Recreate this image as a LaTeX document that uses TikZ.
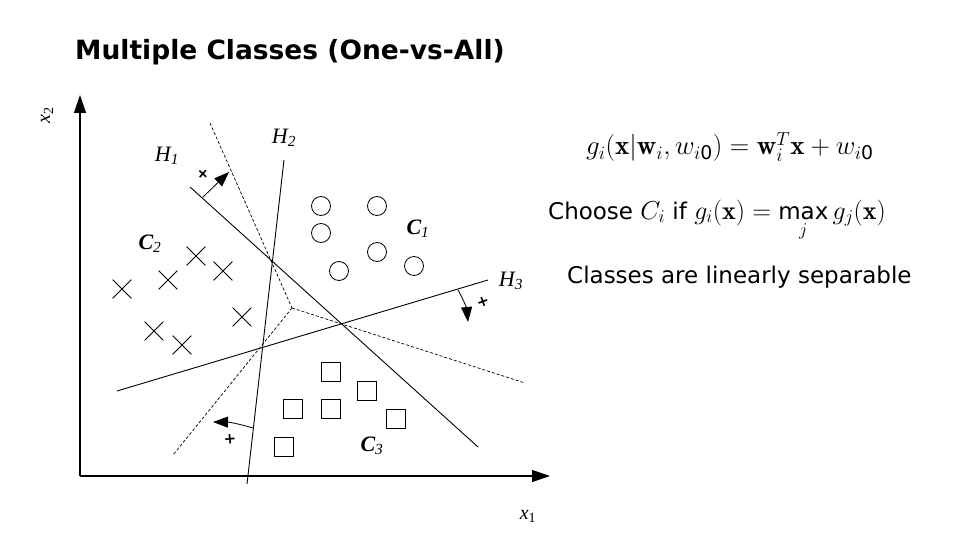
\documentclass[tikz,border=0pt]{standalone}
\usepackage{fix-cm}
\usepackage{amsmath}
\usepackage{fontspec}
\usetikzlibrary{arrows.meta,shapes.misc}
\newfontfamily\sidefont{DejaVu Sans}
\newfontfamily\plotfont{Liberation Serif}
\DeclareMathSizes{23}{26}{18}{13}
\tikzset{
  sepline/.style={line width=0.9pt},
  guideline/.style={line width=0.7pt, dash pattern=on 3pt off 2pt},
  axisline/.style={line width=1.3pt, -{Triangle[length=18pt,width=12pt]}},
  normalarrow/.style={line width=0.8pt, -{Triangle[length=15pt,width=11pt]}},
  cmark/.style={draw, circle, minimum size=19pt, inner sep=0pt, line width=0.8pt},
  smark/.style={draw, rectangle, minimum size=19pt, inner sep=0pt, line width=0.9pt},
  xmark/.style={draw, cross out, minimum size=18pt, inner sep=0pt, line width=0.8pt},
  signmark/.style={font=\sidefont\bfseries\fontsize{15}{15}\selectfont, inner sep=0pt},
  hlabel/.style={font=\plotfont\itshape\fontsize{22}{22}\selectfont},
  clabel/.style={font=\plotfont\bfseries\itshape\fontsize{22}{22}\selectfont},
  sidetext/.style={font=\sidefont\fontsize{23}{23}\selectfont, anchor=base west, inner sep=0pt}
}

\begin{document}
\begin{tikzpicture}[x=1pt, y=-1pt]
    \useasboundingbox (0,0) rectangle (960,540);
    % Title
    \node[font=\sidefont\bfseries\fontsize{26.5}{26.5}\selectfont, anchor=base west, inner sep=0pt] (title) at (75,60) {Multiple Classes (One-vs-All)};
    % Axes
    \coordinate (O) at (80,476);
    \coordinate (ytip) at (80,95);
    \coordinate (xtip) at (550,476);
    \draw[axisline] (O) -- (ytip);
    \draw[axisline] (O) -- (xtip);
    \node[font=\plotfont\fontsize{20}{20}\selectfont, rotate=90] (ylab) at (47,115) {\textit{x}\textsubscript{2}};
    \node[font=\plotfont\fontsize{20}{20}\selectfont] (xlab) at (528,516) {\textit{x}\textsubscript{1}};
    % Separating lines
    \coordinate (h1a) at (190,187);
    \coordinate (h1b) at (478,447);
    \coordinate (h2a) at (284,160);
    \coordinate (h2b) at (247,484);
    \coordinate (h3a) at (117,391);
    \coordinate (h3b) at (488,280);
    \draw[sepline] (h1a) -- (h1b);
    \draw[sepline] (h2a) -- (h2b);
    \draw[sepline] (h3a) -- (h3b);
    \node[hlabel] (H1) at (167,156) {\textit{H}\textsubscript{\textit{1}}};
    \node[hlabel] (H2) at (284,138) {\textit{H}\textsubscript{\textit{2}}};
    \node[hlabel] (H3) at (511,281) {\textit{H}\textsubscript{\textit{3}}};
    % Pairwise boundaries
    \coordinate (v) at (292,308);
    \coordinate (d1) at (210,123);
    \coordinate (d2) at (525,383);
    \coordinate (d3) at (173,455);
    \draw[guideline] (d1) -- (v);
    \draw[guideline] (v) -- (d2);
    \draw[guideline] (v) -- (d3);
    % Normal vectors
    \coordinate (n1s) at (203,197);
    \coordinate (n1t) at (229,172);
    \coordinate (n2s) at (253,428);
    \coordinate (n2t) at (213,422);
    \coordinate (n3s) at (458,290);
    \coordinate (n3t) at (468,322);
    \draw[normalarrow] (n1s) -- (n1t);
    \draw[normalarrow] (n2s) to[bend right=8] (n2t);
    \draw[normalarrow] (n3s) to[bend left=12] (n3t);
    \node[signmark, rotate=-42] (s1) at (203,174) {+};
    \node[signmark, rotate=5] (s2) at (230,439) {+};
    \node[signmark, rotate=20] (s3) at (483,302) {+};
    % Class C1
    \foreach \p [count=\k] in {(321,206),(377,206),(321,233),(377,252),(339,271),(414,266)}
        \node[cmark] (c\k) at \p {};
    % Class C2
    \foreach \p [count=\k] in {(122,289),(168,280),(196,256),(223,271),(242,317),(154,331),(182,345)}
        \node[xmark] (x\k) at \p {};
    % Class C3
    \foreach \p [count=\k] in {(331,372),(367,391),(293,409),(331,409),(396,419),(284,447)}
        \node[smark] (q\k) at \p {};
    \node[clabel] (C1) at (418,229) {\textit{C}\textsubscript{\textit{\mdseries 1}}};
    \node[clabel] (C2) at (150,244) {\textit{C}\textsubscript{\textit{\mdseries 2}}};
    \node[clabel] (C3) at (372,446) {\textit{C}\textsubscript{\textit{\mdseries 3}}};
    % Text on the right
    \node[sidetext, font=\sidefont\fontsize{27}{27}\selectfont] (rule) at (586,155) {$g_i(\mathbf{x}|\mathbf{w}_i,w_{i\text{0}})=\mathbf{w}_i^T\mathbf{x}+w_{i\text{0}}$};
    \node[sidetext] (choose) at (548,219) {Choose $C_i$ if $g_i(\mathbf{x})=\mathop{\text{\fontsize{23}{23}\selectfont max}}\limits_j g_j(\mathbf{x})$};
    \node[sidetext] (sep) at (567,283) {Classes are linearly separable};
\end{tikzpicture}
\end{document}
